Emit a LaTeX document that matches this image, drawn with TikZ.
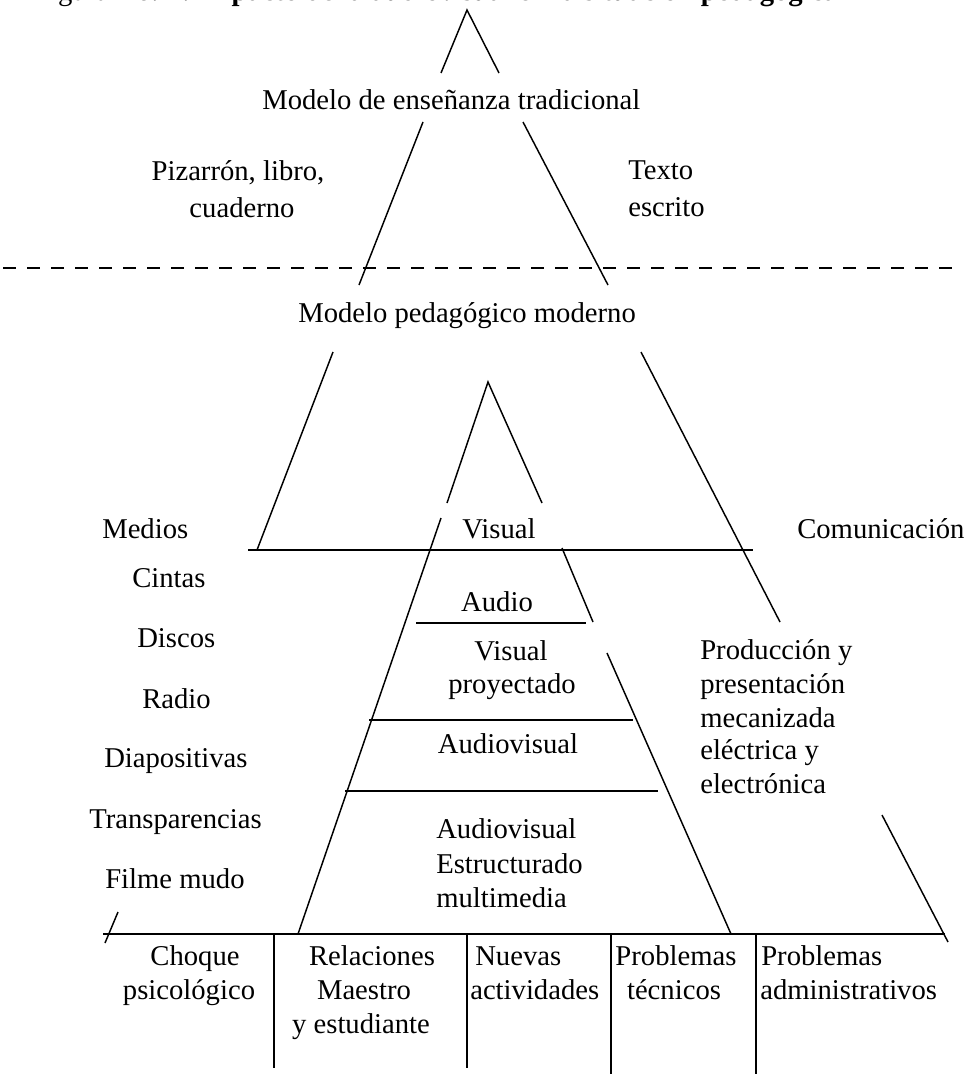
\documentclass[tikz,border=0pt]{standalone}
\usepackage{fontspec}
\setmainfont{Liberation Serif}
\begin{document}
\begin{tikzpicture}[x=0.75pt,y=-0.75pt,
  lbl/.style={inner sep=0pt,font=\fontsize{21.5}{25}\selectfont},
  ln/.style={line width=1.1pt},
  thick line/.style={line width=1.6pt},
  dash line/.style={line width=1.8pt,dash pattern=on 10 off 8}]
\useasboundingbox (0,0) rectangle (972,1074);
\clip (0,0) rectangle (972,1074);
% partially cut-off title
\node[lbl,anchor=base west] (title) at (34,1) {Figura No. 1.\ \textbf{Impacto de la audiovisual en la situaci\'on pedag\'ogica}};
% dashed separator
\coordinate (dL) at (3,268); \coordinate (dR) at (955,268);
\draw[dash line] (dL) -- (dR);
% big triangle
\coordinate (A) at (467,10);
\draw[ln] (441,73) -- (A) -- (499,73);
\draw[ln] (423,122) -- (359,285);
\draw[ln] (333,352) -- (257,550);
\draw[ln] (118,912) -- (105,943);
\draw[ln] (523,122) -- (608,285);
\draw[ln] (641,352) -- (780,622);
\draw[ln] (882,815) -- (948,942);
% inner triangle
\coordinate (B) at (488,382);
\draw[ln] (447,503) -- (B) -- (542,503);
\draw[ln] (441,518) -- (298,934);
\draw[ln] (562,548) -- (593,622);
\draw[ln] (607,653) -- (731,934);
% horizontal lines
\draw[ln] (248,550) -- (753,550);
\draw[ln] (416,623) -- (586,623);
\draw[ln] (369,720) -- (633,720);
\draw[ln] (345,791) -- (658,791);
\draw[thick line] (103,934) -- (945,934);
% dividers
\draw[ln] (274,934) -- (274,1068);
\draw[ln] (467,934) -- (467,1068);
\draw[ln] (611,934) -- (611,1074);
\draw[ln] (756,934) -- (756,1074);
% top texts
\node[lbl,anchor=base west] (trad) at (262,109) {Modelo de ense\~nanza tradicional};
\node[lbl,anchor=base] (piz1) at (238,180) {Pizarr\'on, libro,};
\node[lbl,anchor=base] (piz2) at (242,217) {cuaderno};
\node[lbl,anchor=base west] (tex1) at (628,179) {Texto};
\node[lbl,anchor=base west] (tex2) at (628,216) {escrito};
\node[lbl,anchor=base west] (mod) at (298,322) {Modelo pedag\'ogico moderno};
% left column
\node[lbl,anchor=base west] (medios) at (102,538) {Medios};
\node[lbl,anchor=base west] (cintas) at (132,587) {Cintas};
\node[lbl,anchor=base west] (discos) at (137,647) {Discos};
\node[lbl,anchor=base west] (radio) at (142,708) {Radio};
\node[lbl,anchor=base west] (diap) at (104,767) {Diapositivas};
\node[lbl,anchor=base west] (transp) at (89,828) {Transparencias};
\node[lbl,anchor=base west] (filme) at (105,888) {Filme mudo};
\node[lbl,anchor=base west] (comu) at (797,538) {Comunicaci\'on};
% inner labels
\node[lbl,anchor=base] (vis) at (499,538) {Visual};
\node[lbl,anchor=base] (aud) at (497,611) {Audio};
\node[lbl,anchor=base] (vp1) at (511,660) {Visual};
\node[lbl,anchor=base] (vp2) at (512,693) {proyectado};
\node[lbl,anchor=base] (av) at (508,753) {Audiovisual};
\node[lbl,anchor=base west] (ave1) at (436,838) {Audiovisual};
\node[lbl,anchor=base west] (ave2) at (436,873) {Estructurado};
\node[lbl,anchor=base west] (ave3) at (436,907) {multimedia};
% right labels
\node[lbl,anchor=base west] (pr1) at (700,659) {Producci\'on y};
\node[lbl,anchor=base west] (pr2) at (700,693) {presentaci\'on};
\node[lbl,anchor=base west] (pr3) at (700,727) {mecanizada};
\node[lbl,anchor=base west] (pr4) at (700,759) {el\'ectrica y};
\node[lbl,anchor=base west] (pr5) at (700,793) {electr\'onica};
% bottom row
\node[lbl,anchor=base] (ch1) at (195,965) {Choque};
\node[lbl,anchor=base] (ch2) at (189,999) {psicol\'ogico};
\node[lbl,anchor=base] (re1) at (372,965) {Relaciones};
\node[lbl,anchor=base] (re2) at (364,999) {Maestro};
\node[lbl,anchor=base] (re3) at (361,1033) {y estudiante};
\node[lbl,anchor=base west] (nu1) at (475,965) {Nuevas};
\node[lbl,anchor=base west] (nu2) at (470,999) {actividades};
\node[lbl,anchor=base] (pt1) at (676,965) {Problemas};
\node[lbl,anchor=base] (pt2) at (674,999) {t\'ecnicos};
\node[lbl,anchor=base west] (pa1) at (761,965) {Problemas};
\node[lbl,anchor=base west] (pa2) at (760,999) {administrativos};
\end{tikzpicture}
\end{document}
